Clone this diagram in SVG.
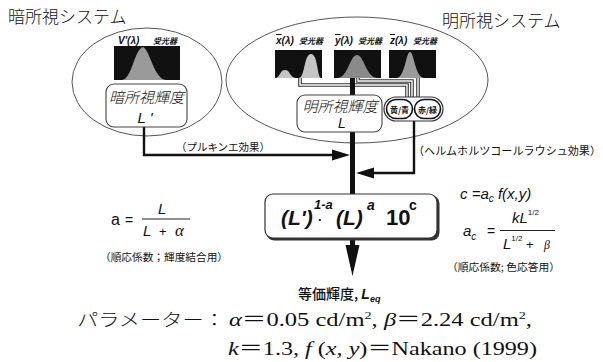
<svg xmlns="http://www.w3.org/2000/svg" width="603" height="362" viewBox="0 0 603 362">
<style>
.jp{font-family:"Noto Sans CJK JP","Noto Sans",sans-serif;fill:#111}
.sans{font-family:"Liberation Sans",Arial,sans-serif;fill:#111}
.serif{font-family:"Liberation Serif","Noto Sans CJK JP",serif;fill:#111}
.ell{fill:none;stroke:#555;stroke-width:1}
.box{fill:#fff;stroke:#444;stroke-width:1.1}
.spec{fill:#111}
.pipe-o{fill:none;stroke:#333;stroke-width:3.6}
.pipe-i{fill:none;stroke:#fff;stroke-width:1.4}
.wire{fill:none;stroke:#111;stroke-width:2.4}
.lbl{font-family:"Liberation Sans",Arial,sans-serif;font-weight:bold;font-style:italic;font-size:10px;fill:#111}
.rcv{font-family:"Noto Sans CJK JP",sans-serif;font-weight:bold;font-style:italic;font-size:8px;fill:#111}
</style>

<text class="jp" x="8" y="23" font-size="17" font-weight="300">暗所視システム</text>
<text class="jp" x="442" y="27" font-size="17" font-weight="300">明所視システム</text>

<g id="scotopic-system">
<ellipse class="ell" cx="147" cy="82" rx="75" ry="54"/>
</g>
<g id="photopic-system">
<ellipse class="ell" cx="357" cy="80" rx="131" ry="63"/>
</g>

<g id="connectors">
<path class="pipe-o" d="M300,78 V85 H407 V98"/>
<path class="pipe-i" d="M300,78 V85 H407 V98"/>
<path class="pipe-o" d="M358,78 V81 H412 V98"/>
<path class="pipe-i" d="M358,78 V81 H412 V98"/>
<path class="pipe-o" d="M418,78 V98"/>
<path class="pipe-i" d="M418,78 V98"/>
<line x1="352.5" y1="78" x2="352.5" y2="194" stroke="#111" stroke-width="5"/>
<path class="wire" d="M144,127 V155 H336"/>
<path d="M332,149.5 L350,155 L332,160.5 z" fill="#111"/>
<path class="wire" d="M414,121 V173 H372"/>
<path d="M374,167.5 L356,173 L374,178.5 z" fill="#111"/>
<line x1="352.5" y1="239" x2="352.5" y2="250" stroke="#111" stroke-width="5"/>
<path d="M345.5,245 L359.5,245 L352.5,276 z" fill="#111"/>
<text class="jp" x="176" y="151" font-size="10.5" textLength="94" lengthAdjust="spacingAndGlyphs">（プルキンエ効果）</text>
<text class="jp" x="413" y="155" font-size="11" textLength="188" lengthAdjust="spacingAndGlyphs">（ヘルムホルツコールラウシュ効果）</text>
</g>

<g id="v-prime-receptor">
<text class="lbl" x="118" y="44">V'(λ)</text>
<text class="rcv" x="153" y="44">受光器</text>
<rect class="spec" x="114" y="46" width="66" height="34"/>
<path d="M122,80 C132,79 134,50 143,47 C150,50 154,79 166,80 z" fill="#9a9a9a"/>
</g>

<g id="x-receptor">
<text class="lbl" x="276" y="44"><tspan style="text-decoration:overline">x</tspan>(λ)</text>
<text class="rcv" x="299" y="44">受光器</text>
<rect class="spec" x="275" y="50" width="47" height="28"/>
<path d="M276,78 C280,77 280,70 285,70 C290,70 290,77 295,78 z" fill="#c4c4c4"/>
<path d="M299,78 C305,77 304,54 311,54 C318,54 317,77 321,78 z" fill="#c4c4c4"/>
</g>

<g id="y-receptor">
<text class="lbl" x="335" y="44"><tspan style="text-decoration:overline">y</tspan>(λ)</text>
<text class="rcv" x="358" y="44">受光器</text>
<rect class="spec" x="334" y="50" width="47" height="28"/>
<path d="M338,78 C348,77 350,55 357,55 C364,55 366,77 377,78 z" fill="#8a8a8a"/>
</g>

<g id="z-receptor">
<text class="lbl" x="390" y="44"><tspan style="text-decoration:overline">z</tspan>(λ)</text>
<text class="rcv" x="413" y="44">受光器</text>
<rect class="spec" x="389" y="50" width="47" height="28"/>
<path d="M397,78 C405,77 406,52 410,52 C414,52 415,77 424,78 z" fill="#9a9a9a"/>
</g>

<g id="scotopic-luminance">
<rect class="box" x="106" y="84" width="81" height="43" rx="8"/>
<text class="jp" x="146.5" y="103" font-size="15" font-style="italic" font-weight="300" text-anchor="middle">暗所視輝度</text>
<text class="sans" x="145" y="123" font-size="15" font-style="italic" text-anchor="middle">L '</text>
</g>

<g id="photopic-luminance">
<rect class="box" x="297" y="95" width="85" height="37" rx="8"/>
<text class="jp" x="340" y="112" font-size="15" font-style="italic" font-weight="300" text-anchor="middle">明所視輝度</text>
<text class="sans" x="342" y="128" font-size="14" font-style="italic" text-anchor="middle">L</text>
</g>

<g id="opponent-channels">
<rect x="384" y="97" width="59" height="24" rx="12" fill="#fff" stroke="#333" stroke-width="1.2"/>
<rect x="386.5" y="99.5" width="26" height="19" rx="9.5" fill="#fff" stroke="#111" stroke-width="1.6"/>
<rect x="414.5" y="99.5" width="26" height="19" rx="9.5" fill="#fff" stroke="#111" stroke-width="1.6"/>
<text class="jp" x="399.5" y="112.5" font-size="8" font-weight="bold" text-anchor="middle">黄/青</text>
<text class="jp" x="427.5" y="112.5" font-size="8" font-weight="bold" text-anchor="middle">赤/緑</text>
</g>

<g id="formula-box">
<rect x="266.5" y="195.5" width="173" height="45" rx="8" fill="#333"/>
<rect x="265" y="194" width="172" height="44" rx="8" fill="#fff" stroke="#333" stroke-width="1.2"/>
<text class="sans" x="281" y="225" font-size="21" font-weight="bold" font-style="italic">(L')</text>
<text class="sans" x="314" y="209" font-size="13" font-weight="bold" font-style="italic">1-a</text>
<text class="sans" x="318" y="224" font-size="13" font-weight="bold">·</text>
<text class="sans" x="336" y="225" font-size="21" font-weight="bold" font-style="italic">(L)</text>
<text class="sans" x="367" y="210" font-size="14" font-weight="bold" font-style="italic">a</text>
<text class="sans" x="386" y="225" font-size="22" font-weight="bold">10</text>
<text class="sans" x="409" y="210" font-size="14" font-weight="bold">c</text>
</g>

<g id="a-formula">
<text class="sans" x="111" y="225" font-size="16">a</text>
<text class="sans" x="125" y="225" font-size="14">=</text>
<line x1="142" y1="219" x2="190" y2="219" stroke="#222" stroke-width="1"/>
<text class="sans" x="158" y="214" font-size="15" font-style="italic">L</text>
<text class="sans" x="143" y="236" font-size="15" font-style="italic">L</text>
<text class="sans" x="159" y="236" font-size="13">+</text>
<text class="serif" x="175" y="236" font-size="17" font-style="italic">α</text>
<text class="jp" x="100" y="261" font-size="10.5" textLength="128" lengthAdjust="spacingAndGlyphs">（順応係数；輝度結合用）</text>
</g>

<g id="c-formula">
<text class="sans" x="460" y="199" font-size="15" font-style="italic">c =a<tspan font-size="10" dy="3">c</tspan><tspan dy="-3"> f(x,y)</tspan></text>
<text class="sans" x="463" y="236" font-size="15" font-style="italic">a<tspan font-size="10" dy="4">c</tspan></text>
<text class="sans" x="487" y="236" font-size="14">=</text>
<line x1="500" y1="230.5" x2="555" y2="230.5" stroke="#222" stroke-width="1"/>
<text class="sans" x="512" y="223" font-size="15" font-style="italic">kL<tspan font-size="8" dy="-8" font-style="normal">1/2</tspan></text>
<text class="sans" x="503" y="249" font-size="15" font-style="italic">L<tspan font-size="8" dy="-8" font-style="normal">1/2</tspan><tspan dy="8" font-style="normal" font-size="13"> + </tspan></text>
<text class="serif" x="544" y="249" font-size="12" font-style="italic">β</text>
<text class="jp" x="447" y="271" font-size="10.5" textLength="113" lengthAdjust="spacingAndGlyphs">（順応係数; 色応答用）</text>
</g>

<g id="equivalent-luminance">
<text class="jp" x="298" y="299" font-size="14" font-weight="500">等価輝度, <tspan class="sans" font-weight="bold" font-style="italic" font-size="14">L</tspan><tspan class="sans" font-weight="bold" font-style="italic" font-size="9" dy="3">eq</tspan></text>
</g>

<g id="parameters">
<text class="jp" x="77" y="326" font-size="17.5" font-weight="300" textLength="148" lengthAdjust="spacingAndGlyphs">パラメーター：</text>
<text class="serif" x="229" y="326" font-size="19" textLength="303" lengthAdjust="spacingAndGlyphs"><tspan font-style="italic">α</tspan>＝0.05 cd/m<tspan font-size="11" dy="-7">2</tspan><tspan dy="7">, </tspan><tspan font-style="italic">β</tspan>＝2.24 cd/m<tspan font-size="11" dy="-7">2</tspan><tspan dy="7">,</tspan></text>
<text class="serif" x="228" y="355" font-size="19" textLength="309" lengthAdjust="spacingAndGlyphs"><tspan font-style="italic">k</tspan>＝1.3, <tspan font-style="italic">f</tspan> (<tspan font-style="italic">x</tspan>, <tspan font-style="italic">y</tspan>)＝Nakano (1999)</text>
</g>
</svg>
